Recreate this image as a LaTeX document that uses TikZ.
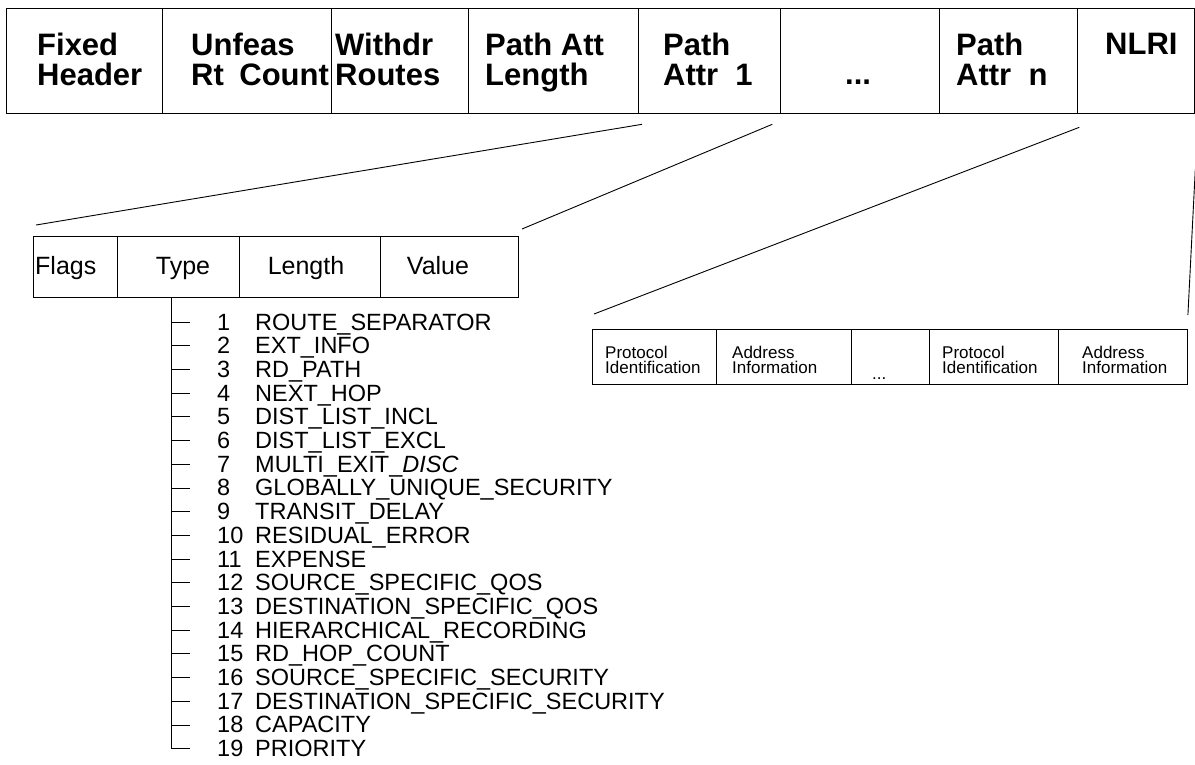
\documentclass[tikz,border=0pt]{standalone}
\usepackage{fontspec}
\setmainfont{Liberation Sans}
\usetikzlibrary{positioning}
\tikzset{
x=1pt, y=-1pt, % one unit is one pixel, y grows downwards
field/.style={draw, line width=1.3pt, inner sep=0pt, anchor=north west, minimum height=105pt}, % cells of the message
tlvcell/.style={draw, line width=1pt, inner sep=0pt, anchor=north west, minimum height=61pt}, % cells of one attribute
nlricell/.style={draw, line width=0.9pt, inner sep=0pt, anchor=north west, minimum height=55pt}, % cells of the NLRI
hdrtext/.style={font=\bfseries\fontsize{31}{30}\selectfont, align=left, inner sep=0pt, anchor=north west},
tlvtext/.style={font=\fontsize{25}{25}\selectfont, inner sep=0pt, anchor=base},
nlritext/.style={font=\fontsize{17}{15}\selectfont, align=left, inner sep=0pt, anchor=north west},
codetext/.style={font=\fontsize{23.5}{23}\selectfont, inner sep=0pt, anchor=base west},
link/.style={line width=0.9pt}, % lines that open up a field
}

\begin{document}
\begin{tikzpicture}
\useasboundingbox (0,0) rectangle (1195,764);

% the message
\node[field, minimum width=156pt] (fixhdr) at (6,8) {};
\node[field, minimum width=169pt] (unfeas) at (162,8) {};
\node[field, minimum width=137pt] (withdr) at (331,8) {};
\node[field, minimum width=170pt] (attlen) at (468,8) {};
\node[field, minimum width=142pt] (pattr1) at (638,8) {};
\node[field, minimum width=159pt] (pdots) at (780,8) {};
\node[field, minimum width=138pt] (pattrn) at (939,8) {};
\node[field, minimum width=117pt] (nlri) at (1077,8) {};

\node[hdrtext] (fixhdrtxt) at (37,33) {Fixed\\Header};
\node[hdrtext] (unfeastxt) at (191,33) {Unfeas\\Rt\hspace{0.5em}Count};
\node[hdrtext] (withdrtxt) at (335,33) {Withdr\\Routes};
\node[hdrtext] (attlentxt) at (485,33) {Path Att\\Length};
\node[hdrtext] (pattr1txt) at (663,33) {Path\\Attr\ \ 1};
\node[hdrtext, anchor=base west] (pdotstxt) at (845,84) {...};
\node[hdrtext] (pattrntxt) at (956,33) {Path\\Attr\ \ n};
\node[hdrtext] (nlritxt) at (1105,33) {NLRI};

% one path attribute
\node[tlvcell, minimum width=84pt] (flags) at (33,236) {};
\node[tlvcell, minimum width=122pt] (type) at (117,236) {};
\node[tlvcell, minimum width=141pt] (length) at (239,236) {};
\node[tlvcell, minimum width=138pt] (value) at (380,236) {};

\node[tlvtext, anchor=base west] (flagstxt) at (35,274) {Flags};
\node[tlvtext] (typetxt) at (183,274) {Type};
\node[tlvtext] (lengthtxt) at (306,274) {Length};
\node[tlvtext] (valuetxt) at (438,274) {Value};

% the NLRI
\node[nlricell, minimum width=124pt] (protid1) at (592,329) {};
\node[nlricell, minimum width=135pt] (addr1) at (716,329) {};
\node[nlricell, minimum width=78pt] (ndots) at (851,329) {};
\node[nlricell, minimum width=129pt] (protid2) at (929,329) {};
\node[nlricell, minimum width=129pt] (addr2) at (1058,329) {};

\node[nlritext] (protid1txt) at (605,346) {Protocol\\Identification};
\node[nlritext] (addr1txt) at (732,346) {Address\\Information};
\node[nlritext, anchor=base west] (ndotstxt) at (872,379) {...};
\node[nlritext] (protid2txt) at (942,346) {Protocol\\Identification};
\node[nlritext] (addr2txt) at (1082,346) {Address\\Information};

% lines that open up Path Attr 1 and NLRI
\draw[link] ([shift={(4,10)}]pattr1.south west) -- ([shift={(3,-11)}]flags.north west);
\draw[link] ([shift={(-9,10)}]pattr1.south east) -- ([shift={(3,-7)}]value.north east);
\draw[link] ([shift={(1,13)}]pattrn.south east) -- ([shift={(2,-15)}]protid1.north west);
\draw[link] ([shift={(0,55)}]nlri.south east) -- ([shift={(0,-14)}]addr2.north east);

% type codes
\coordinate (tree) at ([xshift=-7]type.south);
\foreach \name [count=\i] in {ROUTE\_SEPARATOR, EXT\_INFO, RD\_PATH, NEXT\_HOP,
  DIST\_LIST\_INCL, DIST\_LIST\_EXCL, MULTI\_EXIT\_\textit{DISC}, GLOBALLY\_UNIQUE\_SECURITY,
  TRANSIT\_DELAY, RESIDUAL\_ERROR, EXPENSE, SOURCE\_SPECIFIC\_QOS,
  DESTINATION\_SPECIFIC\_QOS, HIERARCHICAL\_RECORDING, RD\_HOP\_COUNT,
  SOURCE\_SPECIFIC\_SECURITY, DESTINATION\_SPECIFIC\_SECURITY, CAPACITY, PRIORITY} {
  \pgfmathsetmacro\rowy{322+23.7*(\i-1)}
  \coordinate (tick\i) at (190,\rowy);
  \node[codetext] (num\i) at (217,\rowy+8) {\i};
  \node[codetext] (code\i) at (255,\rowy+8) {\name};
  \draw[line width=0.8pt] (tick\i -| tree) -- (tick\i);
}
\draw[line width=0.8pt] (tree) -- (tick19 -| tree);
\end{tikzpicture}
\end{document}
